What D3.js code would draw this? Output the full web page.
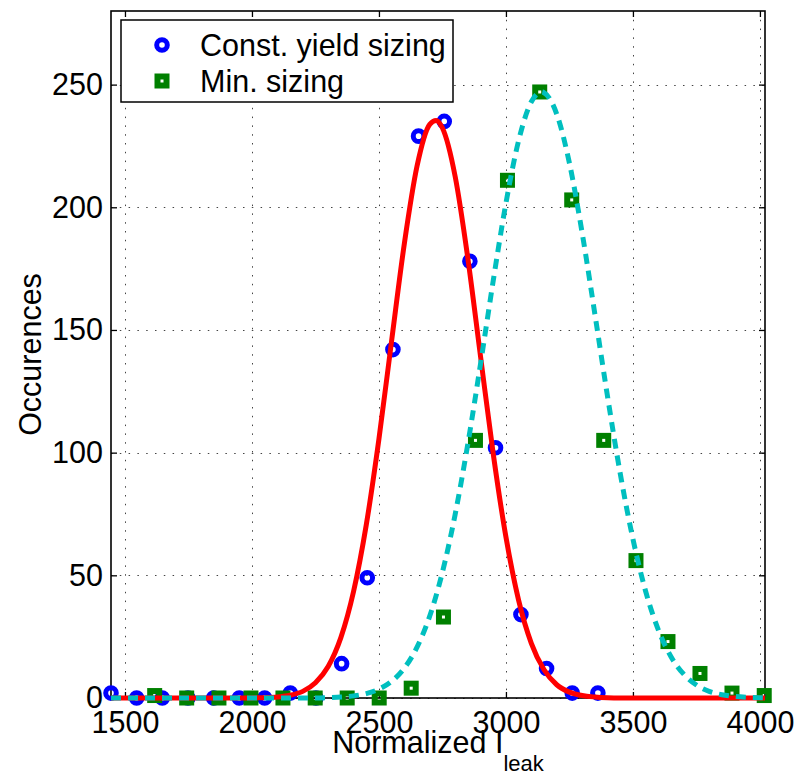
<!DOCTYPE html>
<html><head><meta charset="utf-8">
<script src="https://cdn.jsdelivr.net/npm/d3@7"></script>
<style>body{margin:0;background:#fff} text{font-family:"Liberation Sans",Arial,Helvetica,sans-serif;fill:#000}</style>
</head><body><svg id="c" width="796" height="776"></svg>
<script>
// ---- data ----
const blueX = [1445,1546,1647,1748,1849,1950,2050,2151,2252,2353,2454,2555,2656,2757,2858,2959,3059,3160,3261,3362];
const blueY = [2,0,0,0,0,0,0,2,0,14,49,142,229,235,178,102,34,12,2,2];
const greenX = [1617,1743,1870,1996,2122,2249,2375,2501,2627,2754,2880,3006,3133,3259,3385,3512,3638,3764,3890,4017];
const greenY = [1,0,0,0,0,0,0,0,4,33,105,211,247,203,105,56,23,10,2,1];
// fitted curves
const redFitX = [1445,1950,2000,2050,2100,2150,2200,2250,2300,2350,2400,2450,2500,2550,2600,2650,2700,2725,2750,2800,2850,2900,2950,3000,3050,3100,3150,3200,3250,3300,3350,3400,3450,4020];
const redFitY = [0,0,0.05,0.15,0.42,1.1,2.7,6.2,12.8,24.6,43.4,70.5,105.6,145.7,185.2,216.8,233.8,235.4,232.3,212.6,179.2,139.2,99.5,65.6,39.8,22.3,11.5,5.4,2.4,1.0,0.4,0.1,0,0];
const cyanFitX = [1445,2250,2300,2350,2400,2450,2500,2550,2600,2650,2700,2750,2800,2850,2900,2950,3000,3050,3100,3140,3150,3200,3250,3300,3350,3400,3450,3500,3550,3600,3650,3700,3750,3800,3850,3900,3950,4000,4020];
const cyanFitY = [0,0,0.16,0.39,0.86,1.8,3.6,6.8,12.2,20.7,33.4,51.3,74.8,103.6,136.2,170.1,201.7,227.2,243.0,247,246.7,238.0,218.0,189.6,156.6,122.9,91.5,64.8,43.5,27.8,16.8,9.7,5.3,2.7,1.35,0.63,0.28,0.12,0.08];
const xTicks = [1500,2000,2500,3000,3500,4000];
const yTicks = [0,50,100,150,200,250];
const legendLabels = ["Const. yield sizing","Min. sizing"];
const xDomain = [1445,4020];
const yDomain = [0,280];

// ---- layout ----
const L=111,R=765,T=11,B=698;
const svg = d3.select("#c");
const x = d3.scaleLinear().domain(xDomain).range([L,R]);
const y = d3.scaleLinear().domain(yDomain).range([B,T]);
const FS = 30.5;

// grid
const grid = svg.append("g").attr("stroke","#444").attr("stroke-width",1).attr("stroke-dasharray","1.5,7.3");
grid.selectAll(".gx").data(xTicks).join("line").attr("x1",d=>Math.round(x(d))+0.5).attr("x2",d=>Math.round(x(d))+0.5).attr("y1",T).attr("y2",B);
grid.selectAll(".gy").data(yTicks).join("line").attr("y1",d=>Math.round(y(d))+0.5).attr("y2",d=>Math.round(y(d))+0.5).attr("x1",L).attr("x2",R);

// axes
const ax = d3.axisBottom(x).tickValues(xTicks).tickSize(-6).tickPadding(13).tickFormat(d3.format("d"));
const gx = svg.append("g").attr("transform",`translate(0,${B})`).call(ax);
const ay = d3.axisLeft(y).tickValues(yTicks).tickSize(-6).tickPadding(8).tickFormat(d3.format("d"));
const gy = svg.append("g").attr("transform",`translate(${L},0)`).call(ay);
const gt = svg.append("g").attr("transform",`translate(0,${T})`).call(d3.axisTop(x).tickValues(xTicks).tickSize(-6).tickFormat(""));
const gr = svg.append("g").attr("transform",`translate(${R},0)`).call(d3.axisRight(y).tickValues(yTicks).tickSize(-6).tickFormat(""));
[gx,gy,gt,gr].forEach(g=>{g.select(".domain").remove(); g.selectAll(".tick line").attr("stroke","#000").attr("stroke-width",1.3); g.selectAll("text").attr("font-size",FS).attr("font-family","Liberation Sans, Arial, sans-serif").attr("fill","#000");});
svg.append("rect").attr("x",L).attr("y",T).attr("width",R-L).attr("height",B-T).attr("fill","none").attr("stroke","#000").attr("stroke-width",1.6);

// markers
svg.append("g").selectAll("circle").data(blueX.map((v,i)=>[v,blueY[i]])).join("circle")
  .attr("cx",d=>x(d[0])).attr("cy",d=>y(d[1])).attr("r",5.3).attr("fill","none").attr("stroke","#0000ff").attr("stroke-width",5);
const sq=9;
svg.append("g").selectAll("rect").data(greenX.map((v,i)=>[v,greenY[i]])).join("rect")
  .attr("x",d=>x(d[0])-sq/2).attr("y",d=>y(d[1])-sq/2).attr("width",sq).attr("height",sq).attr("fill","none").attr("stroke","#008000").attr("stroke-width",6);

// fits
const line = d3.line().x(d=>x(d[0])).y(d=>y(d[1])).curve(d3.curveMonotoneX);
svg.append("path").datum(redFitX.map((v,i)=>[v,redFitY[i]])).attr("d",line).attr("fill","none").attr("stroke","#ff0000").attr("stroke-width",5);
svg.append("path").datum(cyanFitX.map((v,i)=>[v,cyanFitY[i]])).attr("d",line).attr("fill","none").attr("stroke","#00bfbf").attr("stroke-width",5).attr("stroke-dasharray","10,7");

// axis labels
svg.append("text").attr("transform",`translate(41,${(T+B)/2}) rotate(-90)`).attr("text-anchor","middle").attr("font-size",FS).text("Occurences");
const xl = svg.append("text").attr("x",(L+R)/2).attr("y",753).attr("text-anchor","middle").attr("font-size",FS);
xl.append("tspan").text("Normalized I");
xl.append("tspan").attr("font-size",22).attr("dy",18).text("leak");

// legend
const lg = svg.append("g");
lg.append("rect").attr("x",121).attr("y",20).attr("width",332).attr("height",82).attr("fill","#fff").attr("stroke","#000").attr("stroke-width",1.5);
const ly=[45,81];
lg.append("circle").attr("cx",162).attr("cy",ly[0]).attr("r",5.3).attr("fill","none").attr("stroke","#0000ff").attr("stroke-width",5);
lg.append("rect").attr("x",162-sq/2).attr("y",ly[1]-sq/2).attr("width",sq).attr("height",sq).attr("fill","none").attr("stroke","#008000").attr("stroke-width",6);
lg.selectAll("text").data(legendLabels).join("text").attr("x",200).attr("y",(d,i)=>ly[i]+11).attr("font-size",FS).text(d=>d);
</script></body></html>
